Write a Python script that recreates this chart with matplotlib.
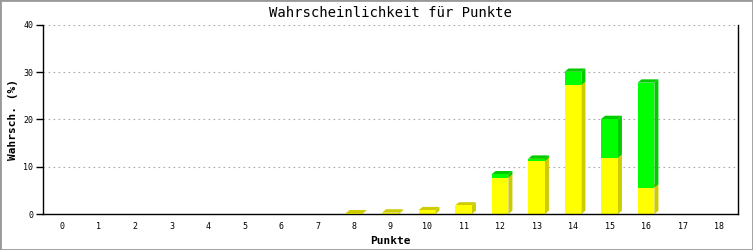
import matplotlib.pyplot as plt
from matplotlib.patches import Polygon, Rectangle

# data
punkte = list(range(19))
gelb = [0, 0, 0, 0, 0, 0, 0, 0, 0.15, 0.3, 0.8, 1.8, 7.7, 11.2, 27.3, 11.9, 5.6, 0, 0]
gruen = [0, 0, 0, 0, 0, 0, 0, 0, 0, 0, 0, 0, 0.7, 0.5, 2.8, 8.2, 22.2, 0, 0]

plt.rcParams['font.family'] = ['DejaVu Sans Mono']

fig = plt.figure(figsize=(7.53, 2.5), dpi=100)
ax = fig.add_axes([43 / 753, 36 / 250, 695 / 753, 189 / 250])

w = 0.46
dx, dy = 0.11, 0.7  # depth offset in data units

def box(x, y0, y1, face, side):
    # side face then top face then front
    if y1 <= y0:
        return
    ax.add_patch(Polygon([(x + w / 2, y0), (x + w / 2 + dx, y0 + dy),
                          (x + w / 2 + dx, y1 + dy), (x + w / 2, y1)],
                         closed=True, facecolor=side, edgecolor='none', zorder=3))
    ax.add_patch(Polygon([(x - w / 2, y1), (x - w / 2 + dx, y1 + dy),
                          (x + w / 2 + dx, y1 + dy), (x + w / 2, y1)],
                         closed=True, facecolor=side, edgecolor='none', zorder=3))
    ax.bar(x, y1 - y0, w, bottom=y0, color=face, edgecolor='none', zorder=4)

for x, g, gr in zip(punkte, gelb, gruen):
    box(x, 0, g, '#ffff00', '#cccc00')
    box(x, g, g + gr, '#00ff00', '#00cc00')

ax.set_xlim(-0.52, 18.52)
ax.set_ylim(0, 40)
ax.set_yticks([0, 10, 20, 30, 40])
ax.set_xticks(punkte)
ax.tick_params(axis='x', length=0, labelsize=6, pad=6)
ax.tick_params(axis='y', length=5, width=1, labelsize=6, pad=2)
ax.yaxis.grid(True, linestyle=(0, (1.5, 3)), color='#aaaaaa', linewidth=0.8)
ax.set_axisbelow(True)
ax.spines['top'].set_visible(False)
for s in ['left', 'right', 'bottom']:
    ax.spines[s].set_linewidth(1)
ax.spines['bottom'].set_zorder(5)

ax.set_title('Wahrscheinlichkeit für Punkte', fontsize=10, pad=6)
ax.set_xlabel('Punkte', fontsize=8, fontweight='bold', labelpad=3)
ax.set_ylabel('Wahrsch. (%)', fontsize=8, fontweight='bold', labelpad=4)

fig.patches.append(Rectangle((0, 0), 1, 1, transform=fig.transFigure, fill=False,
                             edgecolor='#999999', linewidth=2))

fig.savefig('out.png', dpi=100)
